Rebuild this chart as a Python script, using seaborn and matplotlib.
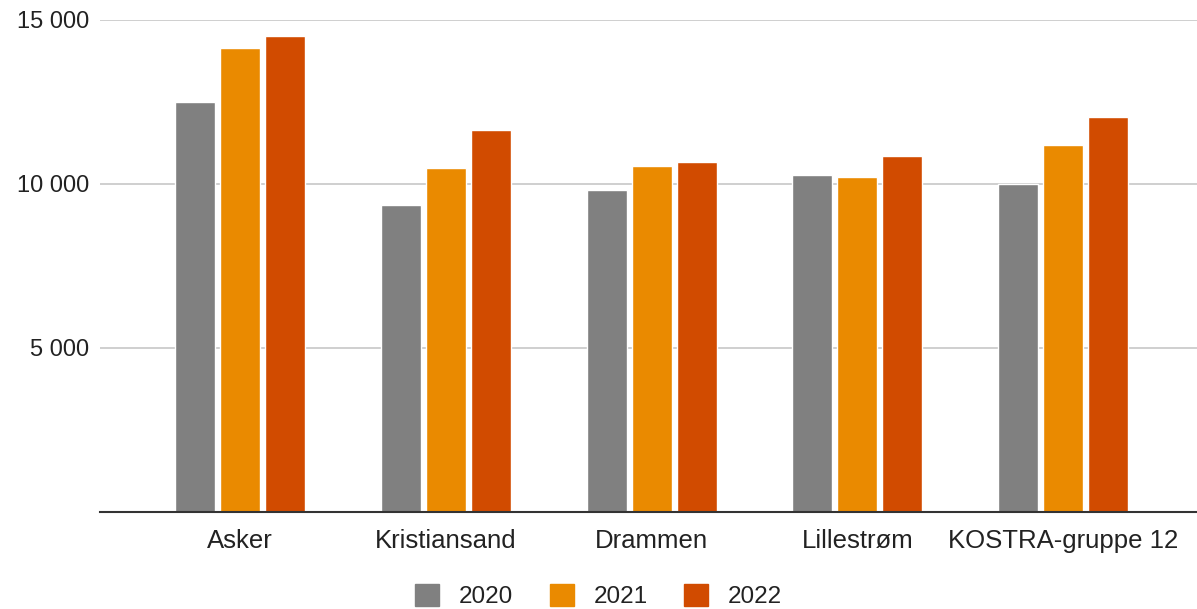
import numpy as np
import pandas as pd
import matplotlib.pyplot as plt
import seaborn as sns

# values
kommuner = ["Asker", "Kristiansand", "Drammen", "Lillestrøm", "KOSTRA-gruppe 12"]
years = ["2020", "2021", "2022"]
v2020 = [12500, 9360, 9820, 10270, 10010]
v2021 = [14150, 10490, 10550, 10210, 11190]
v2022 = [14500, 11650, 10670, 10850, 12040]
colors = ["#808080", "#EA8A00", "#D14B00"]

df = pd.DataFrame({
    "kommune": kommuner * 3,
    "year": [y for y in years for _ in kommuner],
    "value": v2020 + v2021 + v2022,
})

sns.set_theme(style="white")
plt.rcParams["font.family"] = ["Liberation Sans", "DejaVu Sans"]

fig = plt.figure(figsize=(11.97, 6.09), dpi=100)
ax = fig.add_axes([100 / 1197, 1 - 512 / 609, 1 - 100 / 1197, (512 - 20) / 609])

sns.barplot(data=df, x="kommune", y="value", hue="year", palette=colors,
            width=0.655, gap=0.11, saturation=1, ax=ax, legend=False, zorder=3)

ax.set_ylim(0, 15000)
ax.set_xlim(-0.68, 4.65)
ax.set_yticks([5000, 10000, 15000])
ax.set_yticklabels(["5 000", "10 000", "15 000"])
ax.yaxis.grid(True, color="#cccccc", linewidth=1.3, zorder=0)
ax.set_axisbelow(True)
ax.tick_params(axis="y", length=0, pad=8, labelsize=17, labelcolor="#222222")
ax.tick_params(axis="x", length=0, pad=12, labelsize=18.5, labelcolor="#222222")
ax.set_xlabel("")
ax.set_ylabel("")
for s in ["top", "right", "left"]:
    ax.spines[s].set_visible(False)
ax.spines["bottom"].set_color("#333333")
ax.spines["bottom"].set_linewidth(1.5)
ax.spines["bottom"].set_zorder(5)

handles = [plt.Rectangle((0, 0), 1, 1, color=c) for c in colors]
fig.legend(handles, years, loc="center", bbox_to_anchor=(0.5, 13 / 609), ncol=3,
           frameon=False, fontsize=17.5, handlelength=1.0, handleheight=1.0,
           handletextpad=0.8, columnspacing=1.5, labelcolor="#222222")

fig.savefig("out.png", dpi=100)
